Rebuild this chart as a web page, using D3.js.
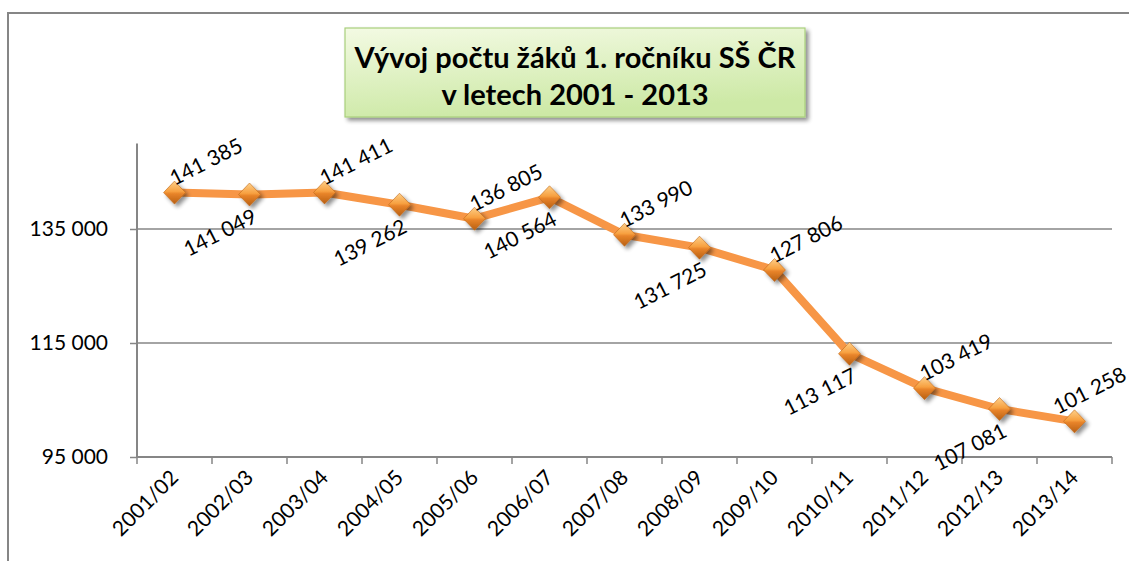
<!DOCTYPE html>
<html>
<head>
<meta charset="utf-8">
<script src="https://cdn.jsdelivr.net/npm/d3@7"></script>
<style>
  html, body { margin: 0; padding: 0; background: #fff; }
  svg { display: block; }
  text { font-family: Lato, "Open Sans", sans-serif; fill: #000; }
</style>
</head>
<body>
<svg id="chart" width="1129" height="561"></svg>
<script>
// ---- data ----
const categories = ["2001/02","2002/03","2003/04","2004/05","2005/06","2006/07","2007/08","2008/09","2009/10","2010/11","2011/12","2012/13","2013/14"];
const values = [141385, 141049, 141411, 139262, 136805, 140564, 133990, 131725, 127806, 113117, 107081, 103419, 101258];
// data label texts as printed in the chart (in point order)
const labelTexts = ["141 385","141 049","141 411","139 262","136 805","140 564","133 990","131 725","127 806","113 117","103 419","107 081","101 258"];
const yTicks = [95000, 115000, 135000];
const yDomain = [95000, 150000];
const titleLines = ["Vývoj počtu žáků 1. ročníku SŠ ČR", "v letech 2001 - 2013"];

// ---- layout ----
const W = 1129;
const svg = d3.select("#chart");
const plot = { left: 137, right: 1112, top: 143.5, bottom: 457 };
const axisColor = "#868686";

const x = d3.scaleBand().domain(categories).range([plot.left, plot.right]).padding(0);
const y = d3.scaleLinear().domain(yDomain).range([plot.bottom, plot.top]);
const cx = c => x(c) + x.bandwidth() / 2;
const fmt = v => d3.format(",")(v).replace(/,/g, " ");

const defs = svg.append("defs");
// title gradient
const tg = defs.append("linearGradient").attr("id", "titleGrad")
  .attr("x1", "0%").attr("y1", "0%").attr("x2", "30%").attr("y2", "100%");
tg.append("stop").attr("offset", "0%").attr("stop-color", "#f3fae3");
tg.append("stop").attr("offset", "100%").attr("stop-color", "#cde9a6");
// shadow filter
const sh = defs.append("filter").attr("id", "shadow").attr("x", "-20%").attr("y", "-20%").attr("width", "150%").attr("height", "160%");
sh.append("feGaussianBlur").attr("in", "SourceAlpha").attr("stdDeviation", 2.2);
sh.append("feOffset").attr("dx", 3).attr("dy", 3).attr("result", "ob");
sh.append("feComponentTransfer").append("feFuncA").attr("type", "linear").attr("slope", 0.45);
const m1 = sh.append("feMerge");
m1.append("feMergeNode");
m1.append("feMergeNode").attr("in", "SourceGraphic");
// marker gradient
const mg = defs.append("linearGradient").attr("id", "markGrad")
  .attr("x1", "0%").attr("y1", "0%").attr("x2", "0%").attr("y2", "100%");
mg.append("stop").attr("offset", "0%").attr("stop-color", "#fdd08a");
mg.append("stop").attr("offset", "45%").attr("stop-color", "#f7a040");
mg.append("stop").attr("offset", "55%").attr("stop-color", "#e8842a");
mg.append("stop").attr("offset", "100%").attr("stop-color", "#b85f12");

// outer chart frame (cropped at right/bottom)
svg.append("path")
  .attr("d", "M8,575 L8,13 L1140,13")
  .attr("fill", "none").attr("stroke", axisColor).attr("stroke-width", 2);

// gridlines
svg.append("g").selectAll("line").data(yTicks).join("line")
  .attr("x1", plot.left).attr("x2", plot.right)
  .attr("y1", d => y(d)).attr("y2", d => y(d))
  .attr("stroke", axisColor).attr("stroke-width", 1.5);

// y axis
const yAxis = d3.axisLeft(y).tickValues(yTicks).tickSize(7).tickPadding(22).tickFormat(fmt);
const gy = svg.append("g").attr("transform", `translate(${plot.left},0)`).call(yAxis);
gy.select(".domain").attr("stroke", axisColor).attr("stroke-width", 2).attr("d", `M-0,${plot.top}V${plot.bottom}`);
gy.selectAll(".tick line").attr("stroke", axisColor).attr("stroke-width", 1.5);
gy.selectAll(".tick text").attr("font-size", 21).attr("font-family", "Lato, sans-serif").attr("fill", "#000");

// x axis
const gx = svg.append("g").attr("transform", `translate(0,${plot.bottom})`);
gx.append("line").attr("x1", plot.left).attr("x2", plot.right).attr("y1", 0).attr("y2", 0)
  .attr("stroke", axisColor).attr("stroke-width", 2);
const boundaries = categories.map(c => x(c)).concat([plot.right]);
gx.selectAll("line.tk").data(boundaries).join("line").attr("class", "tk")
  .attr("x1", d => d).attr("x2", d => d).attr("y1", 0).attr("y2", 7)
  .attr("stroke", axisColor).attr("stroke-width", 1.5);
gx.selectAll("text").data(categories).join("text")
  .attr("transform", d => `translate(${cx(d) + 5},${22}) rotate(-45)`)
  .attr("text-anchor", "end")
  .attr("font-size", 21)
  .text(d => d);

// line
const pts = categories.map((c, i) => ({ c, v: values[i], label: labelTexts[i], i }));
svg.append("path").datum(pts)
  .attr("d", d3.line().x(d => cx(d.c)).y(d => y(d.v)))
  .attr("fill", "none").attr("stroke", "#f79646").attr("stroke-width", 8)
  .attr("stroke-linejoin", "round");

// markers
svg.append("g").selectAll("path").data(pts).join("path")
  .attr("transform", d => `translate(${cx(d.c)},${y(d.v)})`)
  .attr("d", "M0,-11.5L11,0L0,11.5L-11,0Z")
  .attr("fill", "url(#markGrad)")
  .attr("stroke", "#c0681a").attr("stroke-width", 0.6)
  .attr("filter", "url(#shadow)");

// data labels: alternate above-right / below-left, kept inside the chart
svg.append("g").selectAll("text").data(pts).join("text")
  .attr("transform", d => {
    const above = d.i % 2 === 0;
    const dx = above ? 31 : -30, dy = above ? -32 : 37;
    const px = Math.min(cx(d.c) + dx, W - 40);
    return `translate(${px},${y(d.v) + dy}) rotate(-27)`;
  })
  .attr("text-anchor", "middle")
  .attr("dominant-baseline", "central")
  .attr("font-size", 21)
  .text(d => d.label);

// title box
const tb = { x: 345, y: 28, w: 460, h: 89 };
svg.append("rect").attr("x", tb.x).attr("y", tb.y).attr("width", tb.w).attr("height", tb.h)
  .attr("fill", "url(#titleGrad)").attr("stroke", "#a8cf7c").attr("stroke-width", 1.2)
  .attr("filter", "url(#shadow)");
svg.append("g").selectAll("text").data(titleLines).join("text")
  .attr("x", tb.x + tb.w / 2)
  .attr("y", (d, i) => 68 + i * 37)
  .attr("text-anchor", "middle")
  .attr("font-size", 29).attr("font-weight", "bold")
  .text(d => d);
</script>
</body>
</html>
